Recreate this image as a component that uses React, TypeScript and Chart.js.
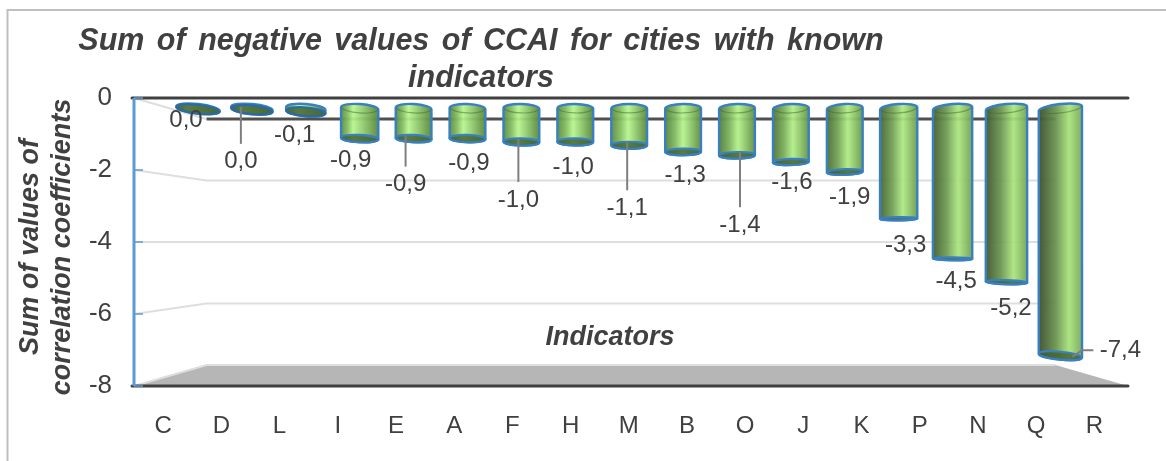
import React, { useEffect, useRef } from "react";
import { Chart, registerables } from "chart.js";

Chart.register(...registerables);

const categories = ["C", "D", "L", "I", "E", "A", "F", "H", "M", "B", "O", "J", "K", "P", "N", "Q", "R"];
const values = [-0.02, -0.04, -0.1, -0.9, -0.9, -0.9, -1.0, -1.0, -1.1, -1.3, -1.4, -1.6, -1.9, -3.3, -4.5, -5.2, -7.4];
const valueLabels = ["0,0", "0,0", "-0,1", "-0,9", "-0,9", "-0,9", "-1,0", "-1,0", "-1,1", "-1,3", "-1,4", "-1,6", "-1,9", "-3,3", "-4,5", "-5,2", "-7,4"];
const titleLines = ["Sum of negative values of CCAI for cities with known", "indicators"];
const yTitleLines = ["Sum of values of", "correlation coefficients"];
const xTitle = "Indicators";

// label offset from the bar's lower centre: dx, dy, leader kind
const labelLayout: [number, number, string][] = [
  [-12, 11, ""], [-11, 52, "v"], [-11, 24, ""], [-9, 22, ""], [-8, 46, "v"], [1.5, 25, ""],
  [-3, 58, "v"], [-2, 25, ""], [-2, 63, "v"], [2, 23, ""], [3, 70, "v"], [1, 20, ""],
  [5, 25, ""], [7, 27, ""], [3.5, 23, ""], [4.5, 26, ""], [60, -5, "e"],
];

const FONT = '"Liberation Sans", Arial, sans-serif';
const TEXT = "#404040";
const AREA = { vx: 631, vy: 242 };
const BACK = 0.854;
const FRAME_RIGHT = 1128;

const cylWidth = (x: number) => 35.8 + Math.max(0, (Math.abs(x - 630) - 230) / 26);
const tilt = (x: number, y: number) => (x - AREA.vx) * (y - AREA.vy) * 1.9e-6;
const capH = (y: number) => 1 + Math.abs(y - AREA.vy) * 0.026;
const mix = (a: number[], b: number[], t: number, alpha: number) =>
  `rgba(${a.map((v, i) => Math.round(v + (b[i] - v) * t)).join(",")},${alpha})`;

const scene = {
  id: "scene",
  beforeDraw(chart: any) {
    const { ctx, chartArea: a, scales } = chart;
    chart.titleBlock.left = 0;
    chart.titleBlock.right = 962;
    ctx.save();
    ctx.strokeStyle = "#bfbfbf";
    ctx.lineWidth = 2;
    ctx.beginPath();
    ctx.moveTo(1166, 10);
    ctx.lineTo(7.5, 10);
    ctx.lineTo(7.5, 461);
    ctx.stroke();

    const bx = (x: number) => AREA.vx + (x - AREA.vx) * BACK;
    const by = (y: number) => AREA.vy + (y - AREA.vy) * BACK;

    // floor
    ctx.fillStyle = "#b6b6b6";
    ctx.beginPath();
    ctx.moveTo(a.left, a.bottom);
    ctx.lineTo(bx(a.left), by(a.bottom));
    ctx.lineTo(bx(FRAME_RIGHT), by(a.bottom));
    ctx.lineTo(FRAME_RIGHT, a.bottom);
    ctx.closePath();
    ctx.fill();

    // walls
    scales.y.ticks.forEach((t: any) => {
      const p = scales.y.getPixelForValue(t.value);
      ctx.lineCap = "butt";
      ctx.strokeStyle = "#dedede";
      ctx.lineWidth = 2;
      ctx.beginPath();
      ctx.moveTo(a.left, p);
      ctx.lineTo(bx(a.left), by(p));
      if (t.value !== 0) ctx.lineTo(bx(FRAME_RIGHT), by(p));
      ctx.stroke();
      if (t.value === 0) {
        ctx.strokeStyle = "#505050";
        ctx.lineWidth = 3;
        ctx.beginPath();
        ctx.moveTo(bx(a.left), by(p));
        ctx.lineTo(bx(FRAME_RIGHT), by(p));
        ctx.stroke();
      }
    });

    // front frame
    ctx.strokeStyle = "#404040";
    ctx.lineWidth = 3;
    ctx.lineCap = "round";
    [a.top, a.bottom].forEach((p: number) => {
      ctx.beginPath();
      ctx.moveTo(a.left - 2, p);
      ctx.lineTo(FRAME_RIGHT, p);
      ctx.stroke();
    });
    ctx.strokeStyle = "#5b9bd5";
    ctx.lineWidth = 3;
    ctx.lineCap = "butt";
    ctx.beginPath();
    ctx.moveTo(a.left, a.top);
    ctx.lineTo(a.left, a.bottom);
    ctx.stroke();
    ctx.lineWidth = 1.5;
    scales.y.ticks.forEach((t: any) => {
      const p = scales.y.getPixelForValue(t.value);
      ctx.beginPath();
      ctx.moveTo(a.left, p);
      ctx.lineTo(a.left + 9, p);
      ctx.stroke();
    });
    ctx.restore();
    ctx.wordSpacing = "4px";
  },
  beforeDatasetsDraw(chart: any) {
    chart.ctx.wordSpacing = "0px";
    chart.getDatasetMeta(0).data.forEach((el: any) => {
      el.width = cylWidth(el.x) - 8;
    });
  },
  afterDatasetsDraw(chart: any) {
    const { ctx } = chart;
    const els = chart.getDatasetMeta(0).data;
    ctx.save();
    els.forEach((el: any) => {
      const x = el.x;
      const yt = el.base;
      const yb = el.y;
      const w = cylWidth(x);
      const at = tilt(x, yt);
      const ab = tilt(x, yb);
      const rt = capH(yt);
      const rb = capH(yb);
      const t = (x - AREA.vx) / 430;
      const tr = Math.min(1, Math.max(0, t));
      const bright = 0.47 + t * 0.23;
      const g = ctx.createLinearGradient(x - w / 2, 0, x + w / 2, 0);
      g.addColorStop(0, mix([92, 140, 66], [62, 80, 48], tr, 0.96));
      g.addColorStop(bright * 0.55, mix([132, 190, 98], [104, 144, 78], tr, 0.93));
      g.addColorStop(bright, mix([184, 246, 142], [168, 226, 122], tr, 0.9));
      g.addColorStop(1, mix([88, 136, 62], [122, 168, 92], tr, 0.96));

      ctx.beginPath();
      ctx.ellipse(x, yb, w / 2, rb, ab, 0, Math.PI);
      ctx.ellipse(x, yt, w / 2, rt, at, Math.PI, Math.PI * 2);
      ctx.closePath();
      ctx.fillStyle = g;
      ctx.fill();
      ctx.lineWidth = 2.4;
      ctx.strokeStyle = "#3a80c0";
      ctx.stroke();

      // open lower end
      ctx.beginPath();
      ctx.ellipse(x, yb, w / 2, rb, ab, 0, Math.PI * 2);
      ctx.fillStyle = "rgba(66,96,48,0.82)";
      ctx.fill();
      ctx.lineWidth = 2.2;
      ctx.strokeStyle = yb - yt < 4 ? "#2a6aa8" : "#3a80c0";
      ctx.stroke();

      // upper cap shading
      if (yb - yt > 8) {
        ctx.beginPath();
        ctx.ellipse(x, yt, w / 2 - 1, rt, at, 0, Math.PI);
        ctx.strokeStyle = "rgba(60,110,50,0.5)";
        ctx.lineWidth = 1.2;
        ctx.stroke();
      }
    });

    // data labels
    ctx.font = `24px ${FONT}`;
    ctx.fillStyle = TEXT;
    ctx.textAlign = "center";
    ctx.textBaseline = "middle";
    els.forEach((el: any, i: number) => {
      const [dx, dy, kind] = labelLayout[i];
      const lx = el.x + dx;
      const ly = el.y + dy;
      ctx.strokeStyle = "#7f7f7f";
      ctx.lineWidth = 2;
      if (kind === "v") {
        ctx.beginPath();
        ctx.moveTo(lx, el.y - 3);
        ctx.lineTo(lx, ly - 18);
        ctx.stroke();
      } else if (kind === "e") {
        ctx.beginPath();
        ctx.moveTo(el.x + 12, el.y + 1);
        ctx.lineTo(el.x + 22, el.y - 5.5);
        ctx.lineTo(el.x + 33, el.y - 5.5);
        ctx.stroke();
      }
      ctx.fillText(valueLabels[i], lx, ly);
    });

    // axis captions
    ctx.font = `italic bold 27px ${FONT}`;
    ctx.fillText(xTitle, 610, 338);
    ctx.translate(0, 247);
    ctx.rotate(-Math.PI / 2);
    ctx.font = `italic bold 27px ${FONT}`;
    ctx.fillText(yTitleLines[0], 0, 31);
    ctx.fillText(yTitleLines[1], 0, 63);
    ctx.restore();
  },
};

export default function App() {
  const ref = useRef<HTMLCanvasElement>(null);
  useEffect(() => {
    const chart = new Chart(ref.current!, {
      type: "bar",
      data: {
        labels: categories,
        datasets: [
          {
            label: "Sum of negative values",
            data: values.map((y, x) => ({ x, y })),
            xAxisID: "xBars",
            yAxisID: "yBars",
            backgroundColor: "rgba(120,180,90,0.25)",
            borderWidth: 0,
            barThickness: 30,
          },
        ],
      },
      plugins: [scene],
      options: {
        responsive: false,
        animation: false,
        layout: { padding: { right: 42.5, top: 0, left: 0, bottom: 0 } },
        plugins: {
          legend: { display: false },
          tooltip: { enabled: false },
          title: {
            display: true,
            text: titleLines,
            color: TEXT,
            font: { family: FONT, size: 30.5, weight: "bold", style: "italic", lineHeight: 37 / 30.5 },
            padding: { top: 23, bottom: 1 },
          },
        },
        scales: {
          x: {
            type: "category",
            labels: categories,
            position: "bottom",
            offset: true,
            border: { display: false },
            grid: { display: false, drawTicks: false },
            ticks: { color: TEXT, font: { family: FONT, size: 24 }, padding: 26, maxRotation: 0, autoSkip: false },
            afterFit: (s: any) => { s.height = 75; },
          },
          y: {
            type: "linear",
            min: -8,
            max: 0,
            border: { display: false },
            grid: { display: false, drawTicks: false },
            ticks: { stepSize: 2, color: TEXT, font: { family: FONT, size: 26 }, padding: 22, callback: (v: any) => String(v) },
            afterFit: (s: any) => { s.width = 134; },
          },
          xBars: { type: "linear", display: false, offset: false, min: -1.187, max: 17.171, position: "bottom" },
          yBars: { type: "linear", display: false, min: -8.308, max: 0.3144 },
        },
      },
    } as any);
    return () => chart.destroy();
  }, []);
  return (
    <div style={{ position: "fixed", left: 0, top: 0, width: 1166, height: 461, background: "#fff" }}>
      <canvas ref={ref} width={1166} height={461} style={{ display: "block" }} />
    </div>
  );
}
